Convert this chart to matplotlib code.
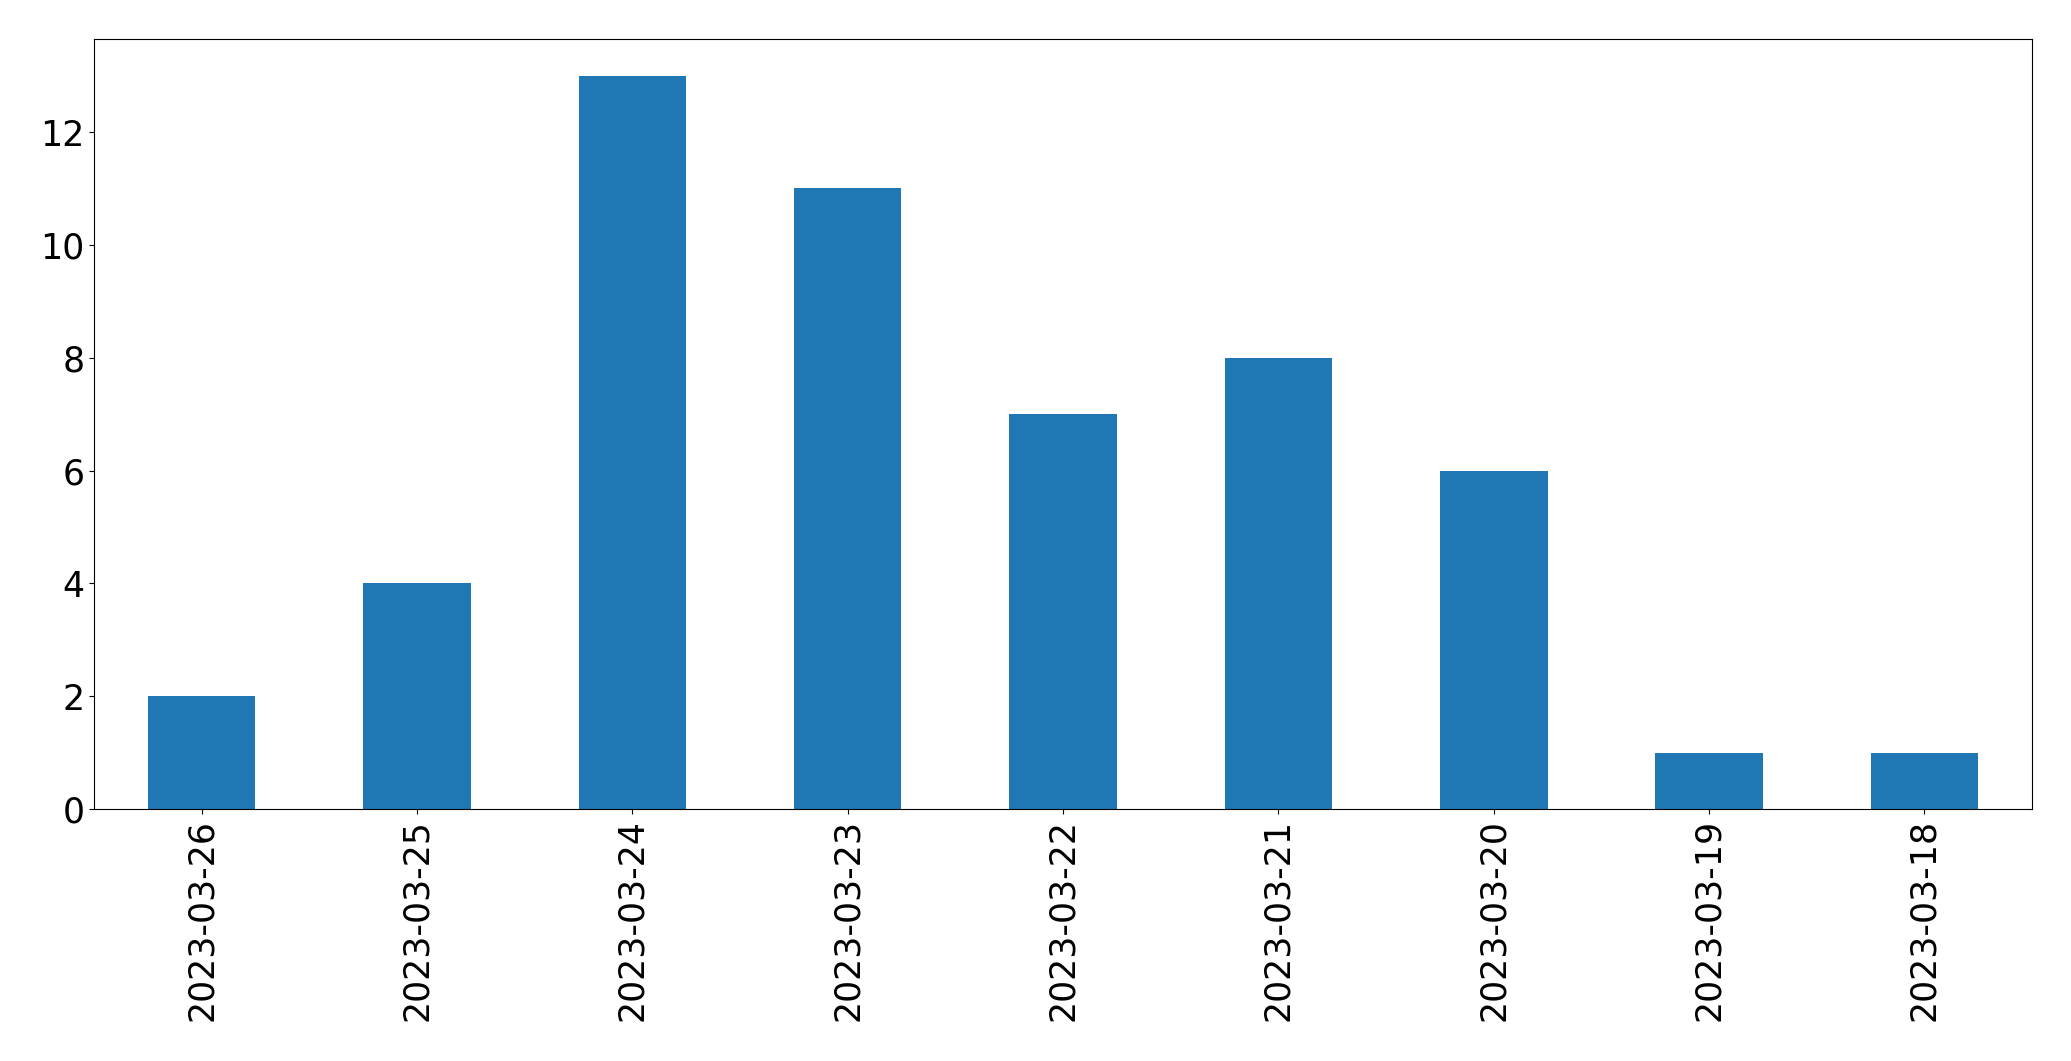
import matplotlib
matplotlib.use("Agg")
import pandas as pd
import matplotlib.pyplot as plt

dates = ["2023-03-26", "2023-03-25", "2023-03-24", "2023-03-23", "2023-03-22",
         "2023-03-21", "2023-03-20", "2023-03-19", "2023-03-18"]
counts = [2, 4, 13, 11, 7, 8, 6, 1, 1]

s = pd.Series(counts, index=dates)

fig, ax = plt.subplots(figsize=(20.71, 10.61), dpi=100)
s.plot(kind="bar", ax=ax, color="#1f77b4", fontsize=25)
plt.subplots_adjust(left=94 / 2071, right=2032 / 2071, top=1 - 39 / 1061, bottom=1 - 809 / 1061)
fig.savefig("out.png", dpi=100)
